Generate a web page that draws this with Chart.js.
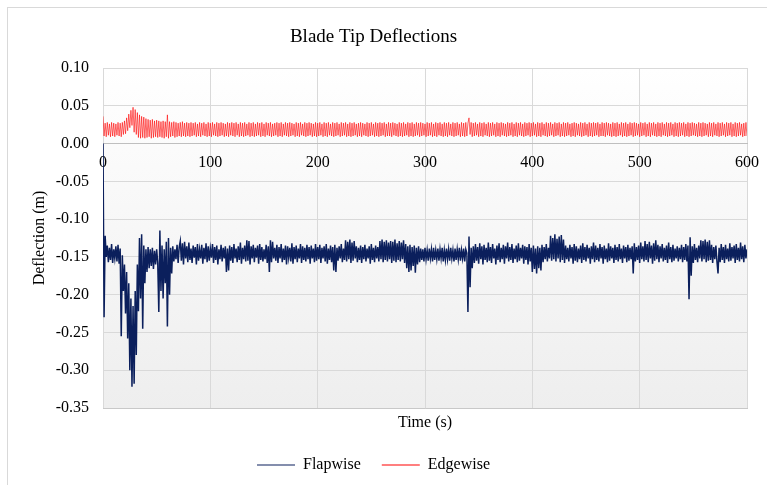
<!DOCTYPE html>
<html>
<head>
<meta charset="utf-8">
<title>Blade Tip Deflections</title>
<script src="https://cdn.jsdelivr.net/npm/chart.js@4.4.0/dist/chart.umd.min.js"></script>
<style>
  html, body { margin: 0; padding: 0; background: #fff; overflow: hidden; }
  #wrap { position: relative; width: 767px; height: 485px; overflow: hidden; }
  #frame { position: absolute; left: 7px; top: 7px; width: 820px; height: 520px; border: 1px solid #d9d9d9; box-sizing: border-box; }
  #myChart { position: absolute; left: 0; top: 0; }
</style>
</head>
<body>
<div id="wrap">
  <div id="frame"></div>
  <canvas id="myChart" width="792" height="485"></canvas>
</div>
<script>
// sample step in seconds
const dt = 1;

// flapwise tip deflection, in mm (one value per second, 0..600 s)
const flapMm = [
  0,-230,-122,-150,-135,-157,-138,-154,-133,-158,-140,-152,-136,-156,-134,-159,-139,-255,-148,-195,
  -160,-225,-170,-258,-185,-300,-205,-322,-215,-318,-195,-280,-160,-222,-125,-205,-120,-245,-135,-185,
  -140,-170,-137,-165,-140,-162,-138,-166,-142,-160,-140,-158,-223,-115,-195,-135,-205,-140,-185,-130,
  -242,-125,-200,-138,-172,-136,-156,-140,-153,-134,-158,-137,-129,-155,-132,-160,-130,-152,-136,-157,
  -131,-154,-139,-158,-135,-151,-137,-160,-133,-155,-140,-152,-134,-159,-138,-153,-132,-157,-136,-155,
  -139,-151,-133,-158,-137,-154,-135,-160,-140,-153,-134,-156,-138,-152,-136,-170,-139,-168,-135,-155,
  -137,-158,-133,-152,-139,-157,-136,-154,-131,-159,-138,-153,-135,-156,-128,-155,-129,-160,-136,-152,
  -134,-157,-138,-151,-135,-159,-133,-154,-137,-156,-140,-153,-134,-158,-136,-170,-128,-157,-130,-152,
  -138,-155,-134,-158,-137,-152,-133,-157,-139,-154,-135,-160,-136,-151,-138,-156,-132,-159,-137,-153,
  -135,-157,-139,-152,-133,-158,-136,-154,-138,-156,-134,-153,-137,-159,-135,-152,-139,-157,-133,-155,
  -137,-153,-134,-158,-138,-152,-136,-156,-133,-159,-139,-154,-135,-157,-137,-168,-134,-170,-138,-155,
  -136,-152,-133,-157,-139,-154,-128,-156,-130,-153,-127,-158,-131,-155,-129,-152,-136,-157,-138,-154,
  -135,-158,-137,-153,-134,-156,-139,-152,-136,-159,-133,-154,-138,-157,-135,-152,-137,-156,-129,-153,
  -127,-157,-130,-154,-128,-156,-131,-153,-129,-158,-130,-155,-127,-157,-132,-154,-129,-156,-131,-153,
  -128,-158,-133,-165,-136,-170,-134,-168,-137,-162,-135,-171,-138,-160,-136,-157,-139,-154,-140,-156,
  -138,-153,-141,-155,-139,-152,-140,-156,-138,-154,-141,-153,-139,-155,-140,-152,-138,-156,-141,-154,
  -139,-153,-140,-155,-138,-152,-141,-156,-139,-154,-140,-153,-138,-155,-141,-152,-139,-156,-140,-145,
  -223,-123,-190,-138,-165,-136,-158,-133,-155,-137,-159,-132,-153,-136,-160,-134,-154,-138,-157,-131,
  -155,-137,-158,-133,-152,-139,-160,-135,-154,-132,-157,-138,-153,-134,-159,-136,-152,-131,-156,-137,
  -154,-133,-158,-139,-153,-135,-157,-132,-155,-138,-152,-134,-159,-136,-154,-137,-160,-133,-156,-138,
  -170,-135,-166,-139,-172,-136,-165,-138,-168,-134,-157,-137,-153,-133,-156,-138,-152,-122,-155,-125,
  -153,-120,-156,-126,-152,-123,-157,-121,-154,-127,-158,-135,-153,-138,-156,-134,-152,-137,-159,-133,
  -155,-136,-157,-139,-153,-135,-158,-132,-154,-137,-156,-134,-152,-138,-159,-136,-153,-131,-157,-135,
  -154,-138,-156,-133,-152,-137,-159,-135,-153,-139,-157,-132,-155,-136,-152,-138,-158,-134,-154,-137,
  -156,-133,-153,-139,-158,-135,-152,-137,-157,-134,-155,-138,-153,-136,-172,-132,-156,-137,-154,-135,
  -158,-131,-153,-136,-156,-129,-154,-133,-157,-130,-152,-135,-159,-132,-155,-128,-153,-134,-157,-136,
  -152,-133,-156,-138,-154,-135,-158,-131,-153,-137,-157,-134,-155,-139,-152,-136,-156,-138,-153,-134,
  -157,-137,-154,-133,-156,-135,-206,-124,-175,-136,-158,-133,-154,-138,-157,-135,-152,-128,-156,-129,
  -153,-127,-157,-130,-155,-128,-154,-134,-158,-137,-153,-135,-156,-172,-138,-157,-133,-154,-137,-158,
  -134,-153,-139,-156,-132,-155,-137,-152,-135,-158,-133,-154,-138,-156,-131,-153,-136,-157,-134,-152,
  -140
];

// edgewise tip deflection, in mm
const edgeMm = [
  36,10,27,9,28,11,26,9,28,10,27,9,26,11,28,10,27,9,28,12,
  30,13,34,17,39,21,44,24,48,15,45,12,41,8,38,7,36,8,35,7,
  33,8,32,9,31,7,32,8,30,9,31,8,30,9,29,8,30,7,29,9,
  38,7,29,9,28,10,29,8,28,9,27,10,28,9,29,10,27,9,28,10,
  27,9,28,10,27,11,28,9,26,10,28,9,27,11,28,10,26,9,28,10,
  27,9,28,11,26,10,28,9,27,10,28,11,27,9,26,10,28,9,27,11,
  28,10,27,9,28,11,26,9,28,10,27,9,28,10,26,11,28,9,27,10,
  28,9,26,10,28,11,27,9,28,10,26,9,28,11,27,10,28,9,26,10,
  27,11,28,9,27,10,28,9,26,11,28,10,27,9,28,10,27,11,26,9,
  28,10,27,9,28,11,26,10,28,9,27,10,28,11,27,9,26,10,28,9,
  27,10,28,11,26,9,28,10,27,9,28,11,26,10,28,9,27,10,28,11,
  26,9,28,10,27,11,28,9,26,10,28,9,27,10,28,11,26,9,27,10,
  28,9,27,11,26,10,28,9,27,10,28,11,26,9,28,10,27,9,28,10,
  27,11,28,9,26,10,28,10,27,9,28,11,27,10,26,9,28,10,27,9,
  28,10,26,11,28,9,27,10,28,9,26,10,28,11,27,9,28,10,27,11,
  26,9,28,10,27,11,28,9,26,10,28,9,27,11,28,10,26,9,28,10,
  27,9,28,11,26,10,28,9,27,10,28,11,26,9,28,10,27,9,28,10,
  27,34,12,28,9,27,10,28,11,26,9,28,10,27,9,28,11,26,10,28,
  9,27,10,28,11,26,9,28,10,27,9,28,11,27,10,26,9,28,10,27,
  11,28,9,26,10,28,9,27,11,28,10,26,9,28,10,27,11,28,9,27,
  10,28,11,26,9,28,10,27,9,28,11,26,10,28,9,27,10,28,11,26,
  9,28,10,27,11,28,9,26,10,28,9,27,10,28,11,26,9,27,10,28,
  9,27,11,26,10,28,9,27,10,28,11,26,9,28,10,27,9,28,10,27,
  11,28,9,26,10,28,10,27,9,28,11,27,10,26,9,28,10,27,9,28,
  10,26,11,28,9,27,10,28,9,26,10,28,11,27,9,28,10,27,11,26,
  9,28,10,27,11,28,9,26,10,28,9,27,11,28,10,26,9,28,10,27,
  9,28,11,26,10,28,9,27,10,28,11,26,9,28,10,27,9,28,10,27,
  11,28,9,26,10,28,9,27,10,28,11,27,10,26,9,28,10,27,9,28,
  10,27,11,26,9,28,10,27,9,28,11,26,10,28,9,27,10,28,11,26,
  9,28,10,27,11,28,9,26,10,28,9,27,10,28,11,26,9,27,10,28,
  10
];

const seriesNames = ['Flapwise', 'Edgewise'];
const seriesColors = ['#0b1f5c', '#ff0000'];

const toPoints = arr => arr.map((v, i) => ({ x: i * dt, y: v / 1000 }));

const serif = '"Liberation Serif", "Times New Roman", serif';

// gradient fill of the plot area, like the Excel chart
const plotBg = {
  id: 'plotBg',
  beforeDraw(chart) {
    const { ctx, chartArea: a } = chart;
    const g = ctx.createLinearGradient(0, a.top, 0, a.bottom);
    g.addColorStop(0, '#ffffff');
    g.addColorStop(1, '#eeeeee');
    ctx.save();
    ctx.fillStyle = g;
    ctx.fillRect(a.left, a.top, a.right - a.left, a.bottom - a.top);
    ctx.restore();
  }
};

const myChart = document.getElementById('myChart');
new Chart(myChart, {
  type: 'line',
  data: {
    datasets: [{
      label: seriesNames[0],
      data: toPoints(flapMm),
      borderColor: seriesColors[0],
      borderWidth: 1.5,
      pointRadius: 0,
      tension: 0
    }, {
      label: seriesNames[1],
      data: toPoints(edgeMm),
      borderColor: seriesColors[1],
      borderWidth: 0.6,
      pointRadius: 0,
      tension: 0
    }]
  },
  options: {
    responsive: false,
    animation: false,
    devicePixelRatio: 1,
    layout: { padding: { left: 0, right: 45, top: 0, bottom: 2 } },
    plugins: {
      tooltip: { enabled: false },
      title: {
        display: true,
        text: 'Blade Tip Deflections',
        color: '#000',
        font: { family: serif, size: 19, weight: 'normal' },
        padding: { top: 26, bottom: 19.2 }
      },
      legend: {
        position: 'bottom',
        labels: {
          color: '#000',
          font: { family: serif, size: 16 },
          boxWidth: 38,
          boxHeight: 1,
          padding: 21,
          generateLabels: chart => chart.data.datasets.map((ds, i) => ({
            text: ds.label,
            fillStyle: seriesColors[i],
            strokeStyle: seriesColors[i],
            lineWidth: 0,
            hidden: false,
            datasetIndex: i
          }))
        }
      }
    },
    scales: {
      x: {
        type: 'linear',
        position: 'bottom',
        min: 0,
        max: 600,
        ticks: { display: false, stepSize: 100 },
        grid: { color: '#d9d9d9', drawTicks: false },
        border: { display: true, color: '#c8c8c8' },
        title: {
          display: true,
          text: 'Time (s)',
          color: '#000',
          font: { family: serif, size: 16 },
          padding: { top: 0, bottom: 4 }
        },
        afterFit: s => { s.height = 28; }
      },
      xZero: {
        type: 'linear',
        axis: 'x',
        position: { y: 0 },
        min: 0,
        max: 600,
        ticks: {
          stepSize: 100,
          color: '#000',
          padding: 10,
          maxRotation: 0,
          font: { family: serif, size: 16 }
        },
        grid: { display: false, drawTicks: false },
        border: { display: true, color: '#bfbfbf' }
      },
      y: {
        min: -0.35,
        max: 0.10,
        ticks: {
          stepSize: 0.05,
          color: '#000',
          padding: 14,
          font: { family: serif, size: 16 },
          callback: v => (Math.abs(v) < 1e-9 ? 0 : v).toFixed(2)
        },
        grid: { color: '#d9d9d9', drawTicks: false },
        border: { display: false },
        title: {
          display: true,
          text: 'Deflection (m)',
          color: '#000',
          font: { family: serif, size: 16 },
          padding: { top: 30, bottom: 0 }
        },
        afterFit: s => { s.width = 103; }
      }
    }
  },
  plugins: [plotBg]
});
</script>
</body>
</html>
